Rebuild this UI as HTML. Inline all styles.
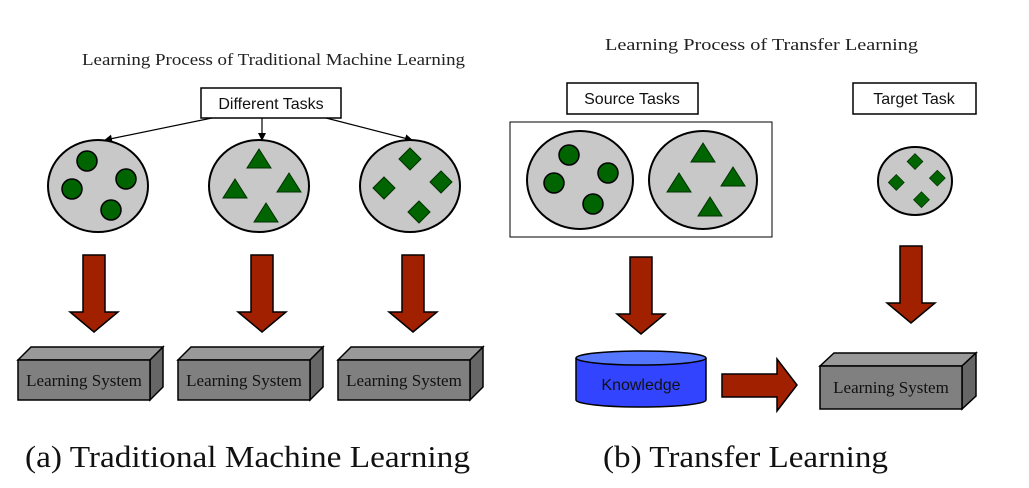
<!DOCTYPE html>
<html><head><meta charset="utf-8"><style>body{margin:0;background:#fff}svg{display:block}</style></head><body>
<svg width="1029" height="488" viewBox="0 0 1029 488" xmlns="http://www.w3.org/2000/svg">
<defs>
<marker id="ah" markerWidth="8" markerHeight="8" refX="7" refY="4" orient="auto" markerUnits="userSpaceOnUse"><path d="M0,0 L8,4 L0,8 z" fill="#000"/></marker>
<g id="circ"><circle cx="-11" cy="-25" r="10"/><circle cx="28" cy="-7" r="10"/><circle cx="-26" cy="3" r="10"/><circle cx="13" cy="24" r="10"/></g>
<g id="tri"><path d="M0,-37 L12,-18 L-12,-18z"/><path d="M30,-13 L42,6 L18,6z"/><path d="M-24,-7 L-12,12 L-36,12z"/><path d="M7,17 L19,36 L-5,36z"/></g>
<g id="dia"><path d="M0,-38 L11,-27 L0,-16 L-11,-27z"/><path d="M31,-15 L42,-4 L31,7 L20,-4z"/><path d="M-26,-9 L-15,2 L-26,13 L-37,2z"/><path d="M9,15 L20,26 L9,37 L-2,26z"/></g>
<g id="down"><path d="M-11,0 L11,0 L11,57 L24,57 L0,77 L-24,57 L-11,57z" fill="#a02000" stroke="#000" stroke-width="1.5"/></g>
</defs>
<g font-family="Liberation Serif, serif" fill="#222">
<text x="82" y="65" font-size="17" textLength="383" lengthAdjust="spacingAndGlyphs">Learning Process of Traditional Machine Learning</text>
<text x="605" y="50" font-size="17" textLength="313" lengthAdjust="spacingAndGlyphs">Learning Process of Transfer Learning</text>
<text x="25" y="467" font-size="31" fill="#111" textLength="445" lengthAdjust="spacingAndGlyphs">(a)  Traditional Machine Learning</text>
<text x="603" y="467" font-size="31" fill="#111" textLength="285" lengthAdjust="spacingAndGlyphs">(b)  Transfer Learning</text>
</g>
<g fill="#fff" stroke="#000" stroke-width="1.5">
<rect x="201" y="88" width="140" height="30"/>
<rect x="567" y="83" width="131" height="31"/>
<rect x="853" y="83" width="123" height="31"/>
<rect x="510" y="122" width="262" height="115" stroke-width="1"/>
</g>
<g font-family="Liberation Sans, sans-serif" font-size="16" fill="#111" text-anchor="middle">
<text x="271" y="109">Different Tasks</text>
<text x="632" y="104">Source Tasks</text>
<text x="914" y="104">Target Task</text>
</g>
<g stroke="#000" stroke-width="1.2" fill="none" marker-end="url(#ah)">
<line x1="212" y1="118" x2="105" y2="140"/>
<line x1="262" y1="118" x2="262" y2="140"/>
<line x1="326" y1="118" x2="412" y2="140"/>
</g>
<g fill="#c8c8c8" stroke="#000" stroke-width="2">
<ellipse cx="98" cy="186" rx="50" ry="46"/>
<ellipse cx="259" cy="186" rx="50" ry="46"/>
<ellipse cx="410" cy="186" rx="50" ry="46"/>
<ellipse cx="580" cy="180" rx="53" ry="49"/>
<ellipse cx="703" cy="180" rx="54" ry="49"/>
<ellipse cx="915" cy="181" rx="37" ry="34"/>
</g>
<g fill="#006400" stroke="#000" stroke-width="1.5">
<use href="#circ" x="98" y="186"/>
<use href="#circ" x="580" y="180"/>
</g>
<g fill="#006400" stroke="#003000" stroke-width="1">
<use href="#tri" x="259" y="186"/>
<use href="#tri" x="703" y="180"/>
<use href="#dia" x="410" y="186"/>
<g transform="translate(915,181) scale(0.72)"><use href="#dia"/></g>
</g>
<use href="#down" x="94" y="255"/>
<use href="#down" x="262" y="255"/>
<use href="#down" x="413" y="255"/>
<use href="#down" x="641" y="257"/>
<use href="#down" x="911" y="246"/>
<g stroke="#000" stroke-width="1.5">
<g>
<polygon points="18,360 31,347 163,347 150,360" fill="#999"/>
<polygon points="150,360 163,347 163,387 150,400" fill="#666"/>
<rect x="18" y="360" width="132" height="40" fill="#808080"/>
</g>
<g transform="translate(160,0)">
<polygon points="18,360 31,347 163,347 150,360" fill="#999"/>
<polygon points="150,360 163,347 163,387 150,400" fill="#666"/>
<rect x="18" y="360" width="132" height="40" fill="#808080"/>
</g>
<g transform="translate(320,0)">
<polygon points="18,360 31,347 163,347 150,360" fill="#999"/>
<polygon points="150,360 163,347 163,387 150,400" fill="#666"/>
<rect x="18" y="360" width="132" height="40" fill="#808080"/>
</g>
<polygon points="820,366 834,353 976,353 962,366" fill="#999"/>
<polygon points="962,366 976,353 976,396 962,409" fill="#666"/>
<rect x="820" y="366" width="142" height="43" fill="#808080"/>
<path d="M576,358 L576,400 A65,7 0 0 0 706,400 L706,358" fill="#3344ff"/>
<ellipse cx="641" cy="358" rx="65" ry="7" fill="#5577ff"/>
<path d="M722,374 L777,374 L777,359 L797,385 L777,411 L777,397 L722,397z" fill="#a02000"/>
</g>
<g font-family="Liberation Serif, serif" font-size="17" fill="#111" text-anchor="middle">
<text x="84" y="386">Learning System</text>
<text x="244" y="386">Learning System</text>
<text x="404" y="386">Learning System</text>
<text x="891" y="393">Learning System</text>
</g>
<text x="641" y="390" font-family="Liberation Sans, sans-serif" font-size="16" fill="#111" text-anchor="middle">Knowledge</text>
</svg>
</body></html>
